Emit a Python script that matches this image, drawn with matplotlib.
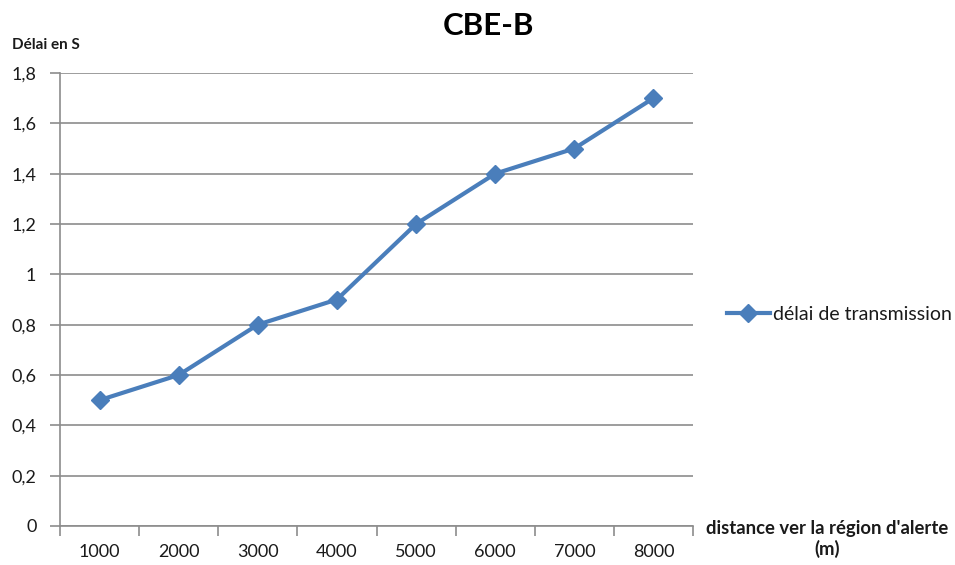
import matplotlib
matplotlib.use("Agg")
import matplotlib.pyplot as plt
import numpy as np

categories = ["1000", "2000", "3000", "4000", "5000", "6000", "7000", "8000"]
delays = [0.5, 0.6, 0.8, 0.9, 1.2, 1.4, 1.5, 1.7]
y_ticks = [0, 0.2, 0.4, 0.6, 0.8, 1.0, 1.2, 1.4, 1.6, 1.8]
y_labels = ["0", "0,2", "0,4", "0,6", "0,8", "1", "1,2", "1,4", "1,6", "1,8"]

plt.rcParams["font.family"] = ["Lato", "DejaVu Sans"]
text_color = "#1a1a1a"
grid_color = "#8c8c8c"
line_color = "#4a7ebb"

fig = plt.figure(figsize=(9.55, 5.65), dpi=100)
ax = fig.add_axes([60 / 955, 1 - 526 / 565, (693 - 60) / 955, (526 - 73) / 565])

x = np.arange(1, len(categories) + 1)
ax.plot(x, delays, color=line_color, linewidth=3, marker="D", markersize=9,
        markerfacecolor=line_color, markeredgecolor=line_color,
        label="délai de transmission")

ax.set_xlim(0.5, len(categories) + 0.5)
ax.set_ylim(0, 1.8)

# category boundaries carry the tick marks; labels sit at category centres
ax.set_xticks(np.arange(0.5, len(categories) + 1, 1.0))
ax.set_xticklabels([])
ax.set_xticks(x, minor=True)
ax.set_xticklabels(categories, minor=True)
ax.tick_params(axis="x", which="major", length=7, width=1.2, color=grid_color)
ax.tick_params(axis="x", which="minor", length=0, pad=13, labelsize=13,
               labelcolor=text_color)

ax.set_yticks(y_ticks)
ax.set_yticklabels(y_labels)
ax.tick_params(axis="y", length=7, width=1.2, color=grid_color, pad=10,
               labelsize=13, labelcolor=text_color)

ax.grid(axis="y", color=grid_color, linewidth=1.2)
ax.set_axisbelow(True)
for side in ("top", "right"):
    ax.spines[side].set_visible(False)
for side in ("left", "bottom"):
    ax.spines[side].set_color(grid_color)
    ax.spines[side].set_linewidth(1.2)

fig.text(488 / 955, 1 - 26 / 565, "CBE-B", ha="center", va="center",
         fontsize=22.5, fontweight="bold", color="black")
fig.text(12 / 955, 1 - 45 / 565, "Délai en S", ha="left", va="center",
         fontsize=11, fontweight="bold", color=text_color)
fig.text(827 / 955, 1 - 539 / 565, "distance ver la région d'alerte\n(m)",
         ha="center", va="center", fontsize=13.3, fontweight="bold",
         color=text_color, linespacing=1.25)

fig.legend(loc="center left", bbox_to_anchor=(727 / 955, 1 - 314 / 565),
           frameon=False, fontsize=14, handlelength=2.2, handletextpad=0.15,
           borderpad=0, borderaxespad=0, labelcolor=text_color)

fig.savefig("out.png", dpi=100, facecolor="white")
